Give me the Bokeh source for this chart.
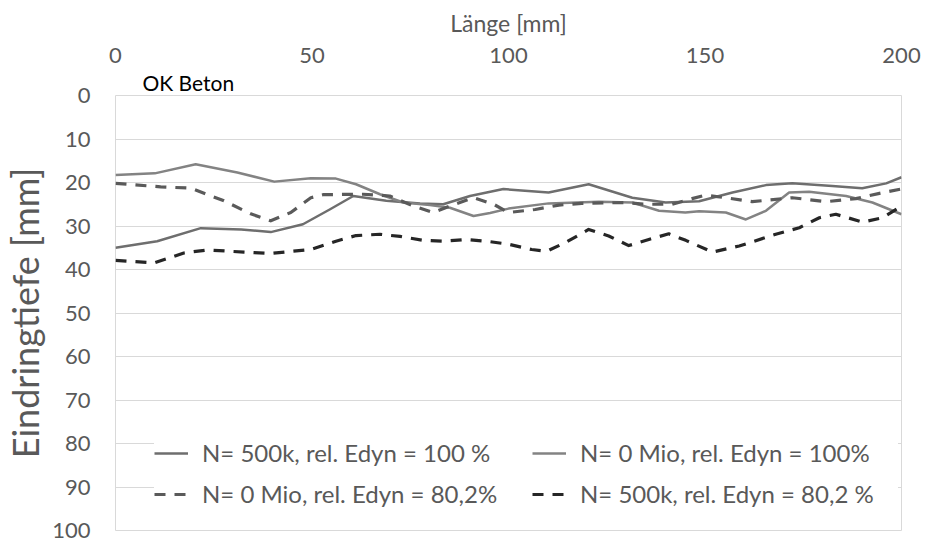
from bokeh.plotting import figure
from bokeh.models import Range1d, Legend, LegendItem, Title, FixedTicker
from bokeh.embed import file_html
from bokeh.resources import INLINE

# ---- data (Länge [mm] vs. Eindringtiefe [mm]) ----
x_500k_100 = [0, 10.6, 21.7, 32, 39.5, 47.7, 54.5, 60.5, 68.9, 77.5, 83.4, 90.2, 98.7,
              110.2, 120.4, 131.5, 140, 148.5, 157, 165.5, 172.2, 182.4, 190, 196.1, 200]
d_500k_100 = [35.0, 33.5, 30.5, 30.8, 31.4, 29.6, 26.2, 23.1, 24.2, 24.8, 25.0, 23.1, 21.5,
              22.3, 20.4, 23.5, 24.6, 24.3, 22.3, 20.6, 20.2, 20.8, 21.3, 20.2, 18.8]

x_0mio_100 = [0, 10, 20.4, 31, 40.4, 49.7, 56.1, 61.2, 67.3, 73.2, 80, 85.1, 91.1, 95.3, 100,
              110.2, 123, 131.5, 138.3, 145, 148.5, 155.3, 160.4, 165.5, 171.4, 176.5,
              185.9, 192.6, 200]
d_0mio_100 = [18.3, 17.9, 15.8, 17.7, 19.8, 19.0, 19.1, 20.4, 22.7, 24.6, 25.2, 25.8, 27.7, 27.0,
              26.0, 24.8, 24.4, 24.6, 26.5, 26.9, 26.6, 26.9, 28.5, 26.5, 22.3, 22.1,
              23.1, 24.6, 27.3]

x_0mio_80 = [0, 11.5, 19.1, 27.6, 34.4, 39.5, 44.6, 49.7, 52.8, 63, 69.8, 75.8, 80.9, 85.1,
             91.1, 96.2, 100, 106.8, 112.8, 118.6, 129.8, 134.9, 141.6, 146.7, 150.2, 155.3,
             162, 172.2, 180.8, 188.4, 194.4, 200]
d_0mio_80 = [20.2, 21.0, 21.3, 24.2, 27.2, 28.8, 26.9, 23.5, 22.8, 22.7, 23.1, 25.4, 26.9, 25.4,
             23.5, 25.0, 26.9, 26.2, 25.2, 24.8, 24.6, 25.0, 25.0, 23.7, 22.9, 23.5,
             24.4, 23.5, 24.4, 23.7, 22.5, 21.5]

x_500k_80 = [0, 9.8, 17.4, 23.4, 32.7, 39.5, 49.7, 56.1, 61.2, 67.3, 72.4, 78.3, 83.4, 89.3,
             94.4, 100, 105.9, 109.7, 114.5, 120.4, 125.5, 130.6, 135.7, 140.8, 145.1, 151.9,
             158.7, 168, 174, 179.1, 183.3, 190.1, 195.2, 200]
d_500k_80 = [37.9, 38.5, 36.2, 35.5, 36.0, 36.3, 35.4, 33.5, 32.2, 31.9, 32.4, 33.3, 33.5, 33.1,
             33.5, 34.2, 35.4, 35.8, 33.8, 30.8, 32.3, 34.5, 33.1, 31.8, 33.3, 36.0,
             34.6, 31.9, 30.4, 28.1, 27.3, 29.1, 28.1, 25.4]

x_ticks = [0, 50, 100, 150, 200]
y_ticks = [0, 10, 20, 30, 40, 50, 60, 70, 80, 90, 100]

labels = ["N= 500k, rel. Edyn = 100 %", "N= 0 Mio, rel. Edyn = 100%",
          "N= 0 Mio, rel. Edyn = 80,2%", "N= 500k, rel. Edyn = 80,2 %"]

FONT = "Lato"
TXT = "#595959"

p = figure(width=925, height=542, output_backend="svg", toolbar_location=None,
           x_range=Range1d(0, 200), y_range=Range1d(100, 0),
           x_axis_location="above", min_border_left=113, min_border_right=24,
           min_border_top=95, min_border_bottom=12)
p.background_fill_color = "white"
p.border_fill_color = "white"
p.outline_line_color = "#d9d9d9"
p.outline_line_width = 1

p.xgrid.visible = False
p.ygrid.grid_line_color = "#d9d9d9"
p.ygrid.ticker = FixedTicker(ticks=y_ticks)

xa = p.xaxis[0]
xa.ticker = FixedTicker(ticks=x_ticks)
xa.axis_label = "Länge [mm]"
ya = p.yaxis[0]
ya.ticker = FixedTicker(ticks=y_ticks)
ya.axis_label = "Eindringtiefe [mm]"
for ax in (xa, ya):
    ax.axis_line_color = None
    ax.major_tick_line_color = None
    ax.minor_tick_line_color = None
    ax.major_tick_out = 0
    ax.major_tick_in = 0
    ax.major_label_text_font = FONT
    ax.major_label_text_font_size = "22px"
    ax.major_label_text_color = TXT
    ax.axis_label_text_font = FONT
    ax.axis_label_text_font_style = "normal"
    ax.axis_label_text_color = TXT
xa.axis_label_text_font_size = "23px"
xa.major_label_standoff = 4
xa.axis_label_standoff = 8
ya.major_label_standoff = 25
ya.axis_label_text_font_size = "36px"
ya.axis_label_standoff = 2

r1 = p.line(x_500k_100, d_500k_100, line_color="#6e6e6e", line_width=2.5, line_join="round")
r2 = p.line(x_0mio_100, d_0mio_100, line_color="#838383", line_width=2.5, line_join="round")
r3 = p.line(x_0mio_80, d_0mio_80, line_color="#5a5a5a", line_width=3.2, line_dash="11 9",
            line_join="round")
r4 = p.line(x_500k_80, d_500k_80, line_color="#262626", line_width=3.2, line_dash="11 9",
            line_join="round")

# column-major filling: column 1 = items 0,1 ; column 2 = items 2,3
legend = Legend(items=[LegendItem(label=labels[0], renderers=[r1]),
                       LegendItem(label=labels[2], renderers=[r3]),
                       LegendItem(label=labels[1], renderers=[r2]),
                       LegendItem(label=labels[3], renderers=[r4])],
                ncols=2, location=(39, 22), glyph_width=34, glyph_height=20,
                label_standoff=14, label_width=318, spacing=12, padding=4,
                label_text_font=FONT, label_text_font_size="24px", label_text_color=TXT,
                background_fill_color="white", background_fill_alpha=1.0,
                border_line_color=None)
p.add_layout(legend)

# "OK Beton" between the top axis and the plot frame
ok = Title(text="OK Beton", align="left", offset=27, text_font=FONT,
           text_font_size="21px", text_font_style="normal", text_color="black",
           standoff=2)
p.above.insert(0, ok)

open("out.html", "w").write(file_html(p, INLINE))
